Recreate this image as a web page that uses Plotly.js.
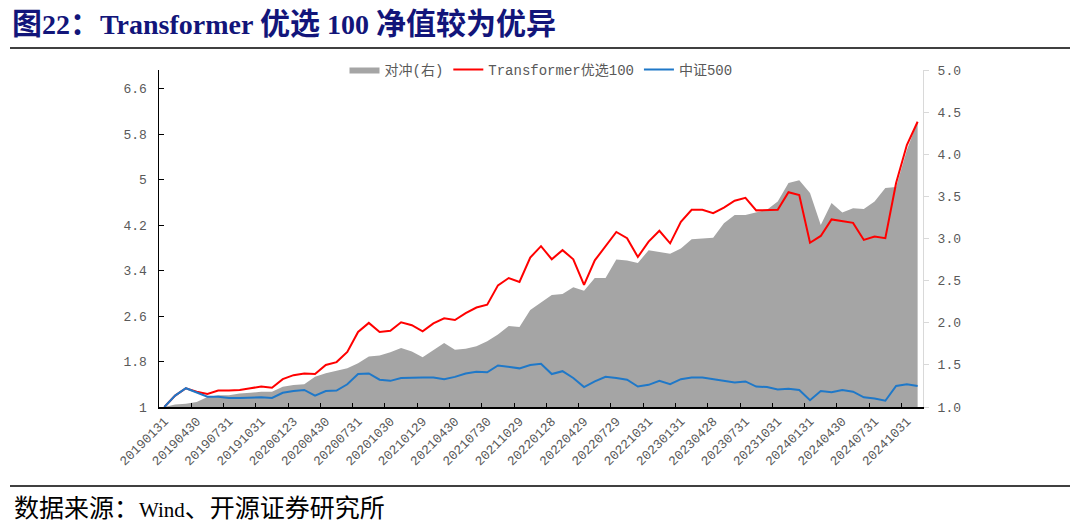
<!DOCTYPE html>
<html>
<head>
<meta charset="utf-8">
<script src="https://cdn.plot.ly/plotly-3.0.1.min.js"></script>
<style>
  html, body { margin: 0; padding: 0; background: #ffffff; }
  #chart { width: 1080px; height: 531px; }
</style>
</head>
<body>
<div id="chart"></div>
<script>
// Month-end trading dates (categories)
const dates = [
  "20190131","20190228","20190329","20190430","20190531","20190628","20190731","20190830","20190930","20191031","20191129","20191231",
  "20200123","20200228","20200331","20200430","20200529","20200630","20200731","20200831","20200930","20201030","20201130","20201231",
  "20210129","20210226","20210331","20210430","20210531","20210630","20210730","20210831","20210930","20211029","20211130","20211231",
  "20220128","20220228","20220331","20220429","20220531","20220630","20220729","20220831","20220930","20221031","20221130","20221230",
  "20230131","20230228","20230331","20230428","20230531","20230630","20230731","20230831","20230928","20231031","20231130","20231229",
  "20240131","20240229","20240329","20240430","20240531","20240628","20240731","20240830","20240930","20241031","20241129"
];

// 对冲(右) — right axis
const hedge = [
  1.00,1.03,1.04,1.06,1.12,1.14,1.14,1.16,1.17,1.18,1.18,1.24,
  1.26,1.27,1.36,1.40,1.43,1.46,1.52,1.60,1.61,1.65,1.70,1.66,
  1.59,1.68,1.76,1.68,1.69,1.72,1.78,1.86,1.96,1.95,2.15,2.24,
  2.33,2.34,2.42,2.38,2.53,2.53,2.75,2.74,2.71,2.86,2.84,2.82,
  2.88,2.99,3.00,3.01,3.18,3.28,3.28,3.31,3.34,3.44,3.66,3.69,
  3.54,3.16,3.42,3.31,3.36,3.35,3.44,3.60,3.61,4.05,4.39
];

// Transformer优选100 — left axis
const transformer = [
  1.00,1.20,1.33,1.27,1.23,1.29,1.29,1.30,1.33,1.36,1.34,1.49,
  1.56,1.59,1.58,1.74,1.79,1.97,2.32,2.48,2.32,2.34,2.49,2.44,
  2.33,2.47,2.56,2.53,2.65,2.75,2.80,3.14,3.27,3.20,3.63,3.83,
  3.60,3.76,3.60,3.15,3.58,3.82,4.08,3.97,3.64,3.91,4.10,3.88,
  4.26,4.47,4.47,4.41,4.51,4.63,4.68,4.46,4.47,4.47,4.78,4.73,
  3.89,4.01,4.30,4.27,4.24,3.94,4.00,3.97,4.94,5.61,6.02
];

// 中证500 — left axis
const csi500 = [
  1.00,1.20,1.33,1.26,1.18,1.18,1.16,1.16,1.17,1.17,1.16,1.25,
  1.28,1.30,1.20,1.28,1.29,1.40,1.58,1.59,1.48,1.46,1.51,1.52,
  1.52,1.52,1.49,1.53,1.59,1.62,1.61,1.73,1.70,1.68,1.74,1.76,
  1.58,1.63,1.51,1.35,1.45,1.53,1.51,1.48,1.36,1.39,1.46,1.40,
  1.49,1.52,1.52,1.49,1.45,1.43,1.45,1.36,1.35,1.31,1.32,1.30,
  1.12,1.28,1.26,1.30,1.27,1.17,1.15,1.11,1.37,1.40,1.37
];

const leftTicks = [1, 1.8, 2.6, 3.4, 4.2, 5, 5.8, 6.6];
const leftTickText = ["1", "1.8", "2.6", "3.4", "4.2", "5", "5.8", "6.6"];

const seriesNames = ["对冲(右)", "Transformer优选100", "中证500"];

// ---- layout geometry ----
const W = 1080, H = 531;
const M = { l: 159, r: 157, t: 70, b: 124 };
const PW = W - M.l - M.r, PH = H - M.t - M.b;
const px = x => (x - M.l) / PW;
const py = y => (H - M.b - y) / PH;

const monoFont = "Liberation Mono, Noto Sans CJK SC, monospace";
const serifFont = "Liberation Serif, Noto Sans CJK SC, serif";
const tickGray = "#595959";

const cjk = (s, size) => '<span style="font-size:' + size + 'px">' + s + '</span>';

const traces = [
  {
    x: dates, y: hedge, name: seriesNames[0], type: "scatter", mode: "lines",
    fill: "tozeroy", fillcolor: "#A5A5A5", line: { width: 0, color: "#A5A5A5" },
    xaxis: "x", yaxis: "y", hoverinfo: "skip"
  },
  {
    x: dates, y: transformer, name: seriesNames[1], type: "scatter", mode: "lines",
    line: { color: "#FF0000", width: 2 }, xaxis: "x", yaxis: "y2", hoverinfo: "skip"
  },
  {
    x: dates, y: csi500, name: seriesNames[2], type: "scatter", mode: "lines",
    line: { color: "#1F78C8", width: 2 }, xaxis: "x", yaxis: "y2", hoverinfo: "skip"
  }
];

const titleText = "<b>" + cjk("图", 30) + "22" + cjk("：", 30) + "Transformer " +
  cjk("优选", 30) + " 100 " + cjk("净值较为优异", 30) + "</b>";

const sourceText = "数据来源：" + '<span style="font-size:21px">Wind</span>' + "、开源证券研究所";

const layout = {
  width: W, height: H,
  margin: M,
  paper_bgcolor: "#ffffff",
  plot_bgcolor: "rgba(0,0,0,0)",
  showlegend: true,
  hovermode: false,
  title: {
    text: titleText,
    font: { family: serifFont, size: 28, color: "#12157A" },
    xref: "container", yref: "container",
    x: 12 / W, xanchor: "left",
    y: 1 - 24 / H, yanchor: "middle"
  },
  xaxis: {
    type: "category",
    range: [-0.5, dates.length - 0.5],
    tickmode: "linear", tick0: 0, dtick: 3,
    tickson: "boundaries",
    ticks: "inside", ticklen: 4, tickcolor: "#000000", tickwidth: 1,
    showline: true, linecolor: "#000000", linewidth: 1.5,
    showgrid: false, zeroline: false,
    tickangle: -45,
    tickfont: { family: monoFont, size: 13, color: tickGray }
  },
  yaxis: {
    side: "right",
    range: [1, 5],
    tickmode: "linear", tick0: 1, dtick: 0.5,
    tickformat: ".1f",
    showline: true, linecolor: "#D9D9D9", linewidth: 1,
    ticks: "outside", ticklen: 5, tickcolor: "#D9D9D9",
    showgrid: false, zeroline: false,
    tickfont: { family: monoFont, size: 13, color: tickGray },
    ticklabelstandoff: 6
  },
  yaxis2: {
    overlaying: "y", side: "left",
    range: [1, 6.93],
    tickmode: "array", tickvals: leftTicks, ticktext: leftTickText,
    showline: true, linecolor: "#000000", linewidth: 1.5,
    ticks: "inside", ticklen: 5, tickcolor: "#000000",
    showgrid: false, zeroline: false,
    tickfont: { family: monoFont, size: 13, color: tickGray },
    ticklabelstandoff: 8
  },
  legend: {
    orientation: "h",
    x: 0.5, xanchor: "center",
    y: py(70), yanchor: "middle",
    bgcolor: "rgba(0,0,0,0)",
    font: { family: monoFont, size: 14, color: tickGray },
    itemwidth: 30
  },
  shapes: [
    { type: "line", xref: "paper", yref: "paper", x0: px(10), x1: px(1070), y0: py(48), y1: py(48),
      line: { color: "#000000", width: 1.5 } },
    { type: "line", xref: "paper", yref: "paper", x0: px(10), x1: px(1070), y0: py(486), y1: py(486),
      line: { color: "#000000", width: 1.5 } }
  ],
  annotations: [
    {
      text: sourceText,
      xref: "paper", yref: "paper",
      x: px(12), y: py(508), xanchor: "left", yanchor: "middle",
      showarrow: false,
      font: { family: serifFont, size: 25, color: "#000000" }
    }
  ]
};

Plotly.newPlot("chart", traces, layout, { staticPlot: true, displayModeBar: false });
</script>
</body>
</html>
